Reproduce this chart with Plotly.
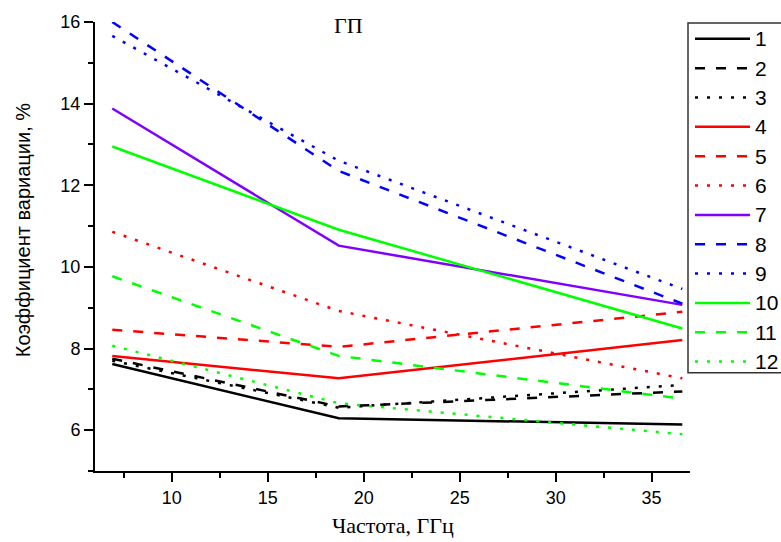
import plotly.graph_objects as go

# Frequencies, GHz
freq = [6.9, 18.7, 36.6]

# Coefficient of variation, %, per curve
s1 = [7.62, 6.29, 6.14]
s2 = [7.75, 6.58, 6.95]
s3 = [7.70, 6.55, 7.11]
s4 = [7.82, 7.27, 8.21]
s5 = [8.46, 8.04, 8.90]
s6 = [10.86, 8.92, 7.27]
s7 = [13.88, 10.52, 9.07]
s8 = [16.00, 12.35, 9.10]
s9 = [15.66, 12.60, 9.46]
s10 = [12.95, 10.91, 8.49]
s11 = [9.77, 7.82, 6.77]
s12 = [8.07, 6.66, 5.90]

series_names = ["1", "2", "3", "4", "5", "6", "7", "8", "9", "10", "11", "12"]
series_values = [s1, s2, s3, s4, s5, s6, s7, s8, s9, s10, s11, s12]

x_ticks = [10, 15, 20, 25, 30, 35]
y_ticks = [6, 8, 10, 12, 14, 16]

BLACK, RED, VIOLET, BLUE, GREEN = "#000000", "#FF0000", "#8000FF", "#0000FF", "#00FF00"
DASH = "10px,11px"
DOT = "3px,9px"
styles = [
    (BLACK, "solid"), (BLACK, DASH), (BLACK, DOT),
    (RED, "solid"), (RED, DASH), (RED, DOT),
    (VIOLET, "solid"), (BLUE, DASH), (BLUE, DOT),
    (GREEN, "solid"), (GREEN, DASH), (GREEN, DOT),
]

W, H = 781, 542
L, R, T, B = 95, 91, 18, 71
PW, PH = W - L - R, H - T - B


def px(xp):
    return (xp - L) / PW


def py(yp):
    return (H - B - yp) / PH


fig = go.Figure()
for name, vals, (color, dash) in zip(series_names, series_values, styles):
    fig.add_trace(go.Scatter(
        x=freq, y=vals, name=name, mode="lines",
        line=dict(color=color, width=2.5, dash=dash),
        showlegend=False,
    ))

shapes = []
annotations = []

# Legend box, running off the right edge
shapes.append(dict(type="rect", xref="paper", yref="paper",
                   x0=px(688), x1=px(800), y0=py(372), y1=py(19),
                   line=dict(color="#333333", width=1.5), fillcolor="white",
                   layer="above"))
for i, (name, (color, dash)) in enumerate(zip(series_names, styles)):
    yy = 35 + 29.6 * i
    shapes.append(dict(type="line", xref="paper", yref="paper",
                       x0=px(695), x1=px(750), y0=py(yy), y1=py(yy),
                       line=dict(color=color, width=2.5, dash=dash),
                       layer="above"))
    annotations.append(dict(text=name, xref="paper", yref="paper",
                            x=px(753), y=py(yy), xanchor="left", yanchor="middle",
                            showarrow=False,
                            font=dict(family="Liberation Sans", size=21, color="#000000")))

serif = dict(family="Liberation Serif", size=22, color="#000000")
annotations.append(dict(text="ГП", xref="paper", yref="paper",
                        x=px(348), y=py(22), xanchor="center", yanchor="middle",
                        showarrow=False, font=serif))
annotations.append(dict(text="Частота, ГГц", xref="paper", yref="paper",
                        x=px(393), y=py(526), xanchor="center", yanchor="middle",
                        showarrow=False, font=serif))
annotations.append(dict(text="Коэффициент вариации, %", xref="paper", yref="paper",
                        x=px(23), y=py(228), xanchor="center", yanchor="middle",
                        textangle=-90, showarrow=False,
                        font=dict(family="Liberation Sans", size=20, color="#000000")))

axis_common = dict(
    showgrid=False, zeroline=False, showline=True, linecolor="#000000", linewidth=2,
    ticks="outside", ticklen=9, tickwidth=1.5, tickcolor="#000000",
    tickfont=dict(family="Liberation Sans", size=18, color="#000000"),
)

fig.update_layout(
    width=W, height=H,
    margin=dict(l=L, r=R, t=T, b=B),
    paper_bgcolor="white", plot_bgcolor="white",
    xaxis=dict(range=[6, 37], tickvals=x_ticks,
               minor=dict(ticks="outside", ticklen=5, tickwidth=1.5, tickcolor="#000000",
                          dtick=2.5, tick0=0, showgrid=False),
               **axis_common),
    yaxis=dict(range=[5, 16], tickvals=y_ticks,
               minor=dict(ticks="outside", ticklen=5, tickwidth=1.5, tickcolor="#000000",
                          dtick=1, tick0=0, showgrid=False),
               **axis_common),
    shapes=shapes,
    annotations=annotations,
    showlegend=False,
)

fig.write_html("out.html")
